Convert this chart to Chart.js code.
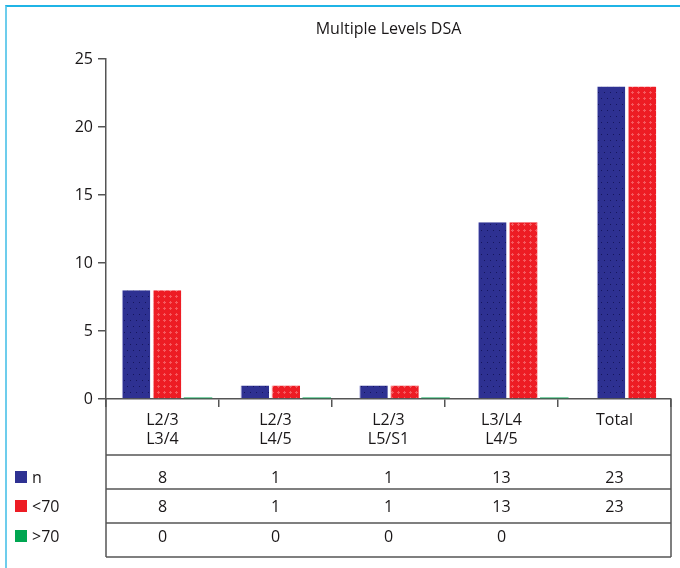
<!DOCTYPE html>
<html>
<head>
<meta charset="utf-8">
<script src="https://cdn.jsdelivr.net/npm/chart.js@4"></script>
<style>
  html, body { margin: 0; padding: 0; background: #fff; }
  #wrap { position: relative; width: 680px; height: 568px; }
  #frame { position: absolute; left: 5px; top: 5px; right: 0; bottom: 0;
           border-top: 2px solid #1fb4e6; border-left: 2px solid #6dcdec; }
</style>
</head>
<body>
<div id="wrap">
  <div id="frame"></div>
  <canvas id="myChart" width="680" height="568"></canvas>
</div>
<script>
// levels and counts
const categories = [['L2/3', 'L3/4'], ['L2/3', 'L4/5'], ['L2/3', 'L5/S1'], ['L3/L4', 'L4/5'], ['Total']];
const seriesNames = ['n', '<70', '>70'];
const nValues = [8, 1, 1, 13, 23];
const under70 = [8, 1, 1, 13, 23];
const over70 = [0, 0, 0, 0, null];
const yTicks = [0, 5, 10, 15, 20, 25];

const FONT = '"Open Sans", sans-serif';
const TEXT = '#1a1718';
const LINE = '#555555';

// dotted fills for the bars
function dotPattern(base, dot) {
    const c = document.createElement('canvas');
    c.width = 6; c.height = 12;
    const g = c.getContext('2d');
    g.fillStyle = base;
    g.fillRect(0, 0, 6, 12);
    g.fillStyle = dot;
    g.fillRect(1, 2, 1, 1);
    g.fillRect(4, 8, 1, 1);
    return g.createPattern(c, 'repeat');
}
function crossPattern(base, mark) {
    const c = document.createElement('canvas');
    c.width = 6; c.height = 6;
    const g = c.getContext('2d');
    g.fillStyle = base;
    g.fillRect(0, 0, 6, 6);
    g.fillStyle = mark;
    g.fillRect(2, 1, 1, 3);
    g.fillRect(1, 2, 3, 1);
    return g.createPattern(c, 'repeat');
}

const blueFill = dotPattern('#2e3192', '#15165e');
const redFill = crossPattern('#ed1c24', '#f55a5f');
const swatches = ['#2e3192', '#ed1c24', '#00a651'];
const tableRows = [nValues, under70, over70];

// bars sit on their own index axis, a little wider-spaced than the table columns
const toPoints = arr => arr.map((v, i) => ({ x: i, y: v }));

// table under the axis + legend on the left
const tablePlugin = {
    id: 'tablePlugin',
    afterDraw(chart) {
        const ctx = chart.ctx;
        const x = chart.scales.x;
        const left = chart.chartArea.left, right = chart.chartArea.right, bottom = chart.chartArea.bottom;
        const lines = [455, 489, 523, 557];
        const textY = [478, 507, 537];
        ctx.save();
        ctx.strokeStyle = LINE;
        ctx.lineWidth = 1.5;
        ctx.beginPath();
        lines.forEach(y => { ctx.moveTo(left, y); ctx.lineTo(right, y); });
        ctx.moveTo(left, bottom); ctx.lineTo(left, 557);
        ctx.moveTo(right, bottom); ctx.lineTo(right, 557);
        ctx.stroke();

        ctx.font = '16px ' + FONT;
        ctx.fillStyle = TEXT;
        ctx.textAlign = 'center';
        ctx.textBaseline = 'middle';
        tableRows.forEach((row, r) => {
            row.forEach((v, i) => {
                if (v === null) return;
                ctx.fillText(String(v), x.getPixelForValue(i), textY[r]);
            });
        });

        ctx.textAlign = 'left';
        seriesNames.forEach((name, r) => {
            ctx.fillStyle = swatches[r];
            ctx.fillRect(15, textY[r] - 7, 12, 12);
            ctx.fillStyle = TEXT;
            ctx.fillText(name, 32, textY[r]);
        });
        ctx.restore();
    }
};

const ctx = document.getElementById('myChart').getContext('2d');
const myChart = new Chart(ctx, {
    type: 'bar',
    data: {
        labels: categories,
        datasets: [{
            label: seriesNames[0],
            data: toPoints(nValues),
            xAxisID: 'xb',
            backgroundColor: blueFill,
            borderColor: '#a9aad8',
            borderWidth: { left: 1, top: 0, right: 0, bottom: 0 },
            borderSkipped: false
        }, {
            label: seriesNames[1],
            data: toPoints(under70),
            xAxisID: 'xb',
            backgroundColor: redFill,
            borderColor: '#f7a3a6',
            borderWidth: { left: 1, top: 0, right: 0, bottom: 0 },
            borderSkipped: false
        }, {
            label: seriesNames[2],
            data: toPoints(over70),
            xAxisID: 'xb',
            backgroundColor: '#00a651',
            minBarLength: 1.5
        }]
    },
    options: {
        responsive: false,
        animation: false,
        categoryPercentage: 0.783,
        barPercentage: 0.92,
        layout: { padding: { left: 0, right: 9, top: 0, bottom: 11 } },
        plugins: {
            legend: { display: false },
            tooltip: { enabled: false },
            title: {
                display: true,
                fullSize: false,
                text: 'Multiple Levels DSA',
                color: TEXT,
                font: { family: FONT, size: 16, weight: 'normal' },
                padding: { top: 20, bottom: 20 }
            }
        },
        scales: {
            x: {
                type: 'category',
                grid: { drawOnChartArea: false, tickLength: 8, color: LINE, lineWidth: 1.5 },
                border: { color: LINE, width: 1.5 },
                ticks: { color: TEXT, font: { family: FONT, size: 16 }, padding: 4, maxRotation: 0 },
                afterFit(scale) { scale.height = 158; }
            },
            xb: {
                type: 'linear',
                display: false,
                min: -0.514,
                max: 4.244,
                offset: false
            },
            y: {
                min: 0,
                max: 25,
                afterBuildTicks(scale) { scale.ticks = yTicks.map(v => ({ value: v })); },
                grid: { drawOnChartArea: false, tickLength: 8, color: LINE, lineWidth: 1.5 },
                border: { color: LINE, width: 1.5 },
                ticks: { color: TEXT, font: { family: FONT, size: 16 }, padding: 5 },
                afterFit(scale) { scale.width = 106; }
            }
        }
    },
    plugins: [tablePlugin]
});
</script>
</body>
</html>
